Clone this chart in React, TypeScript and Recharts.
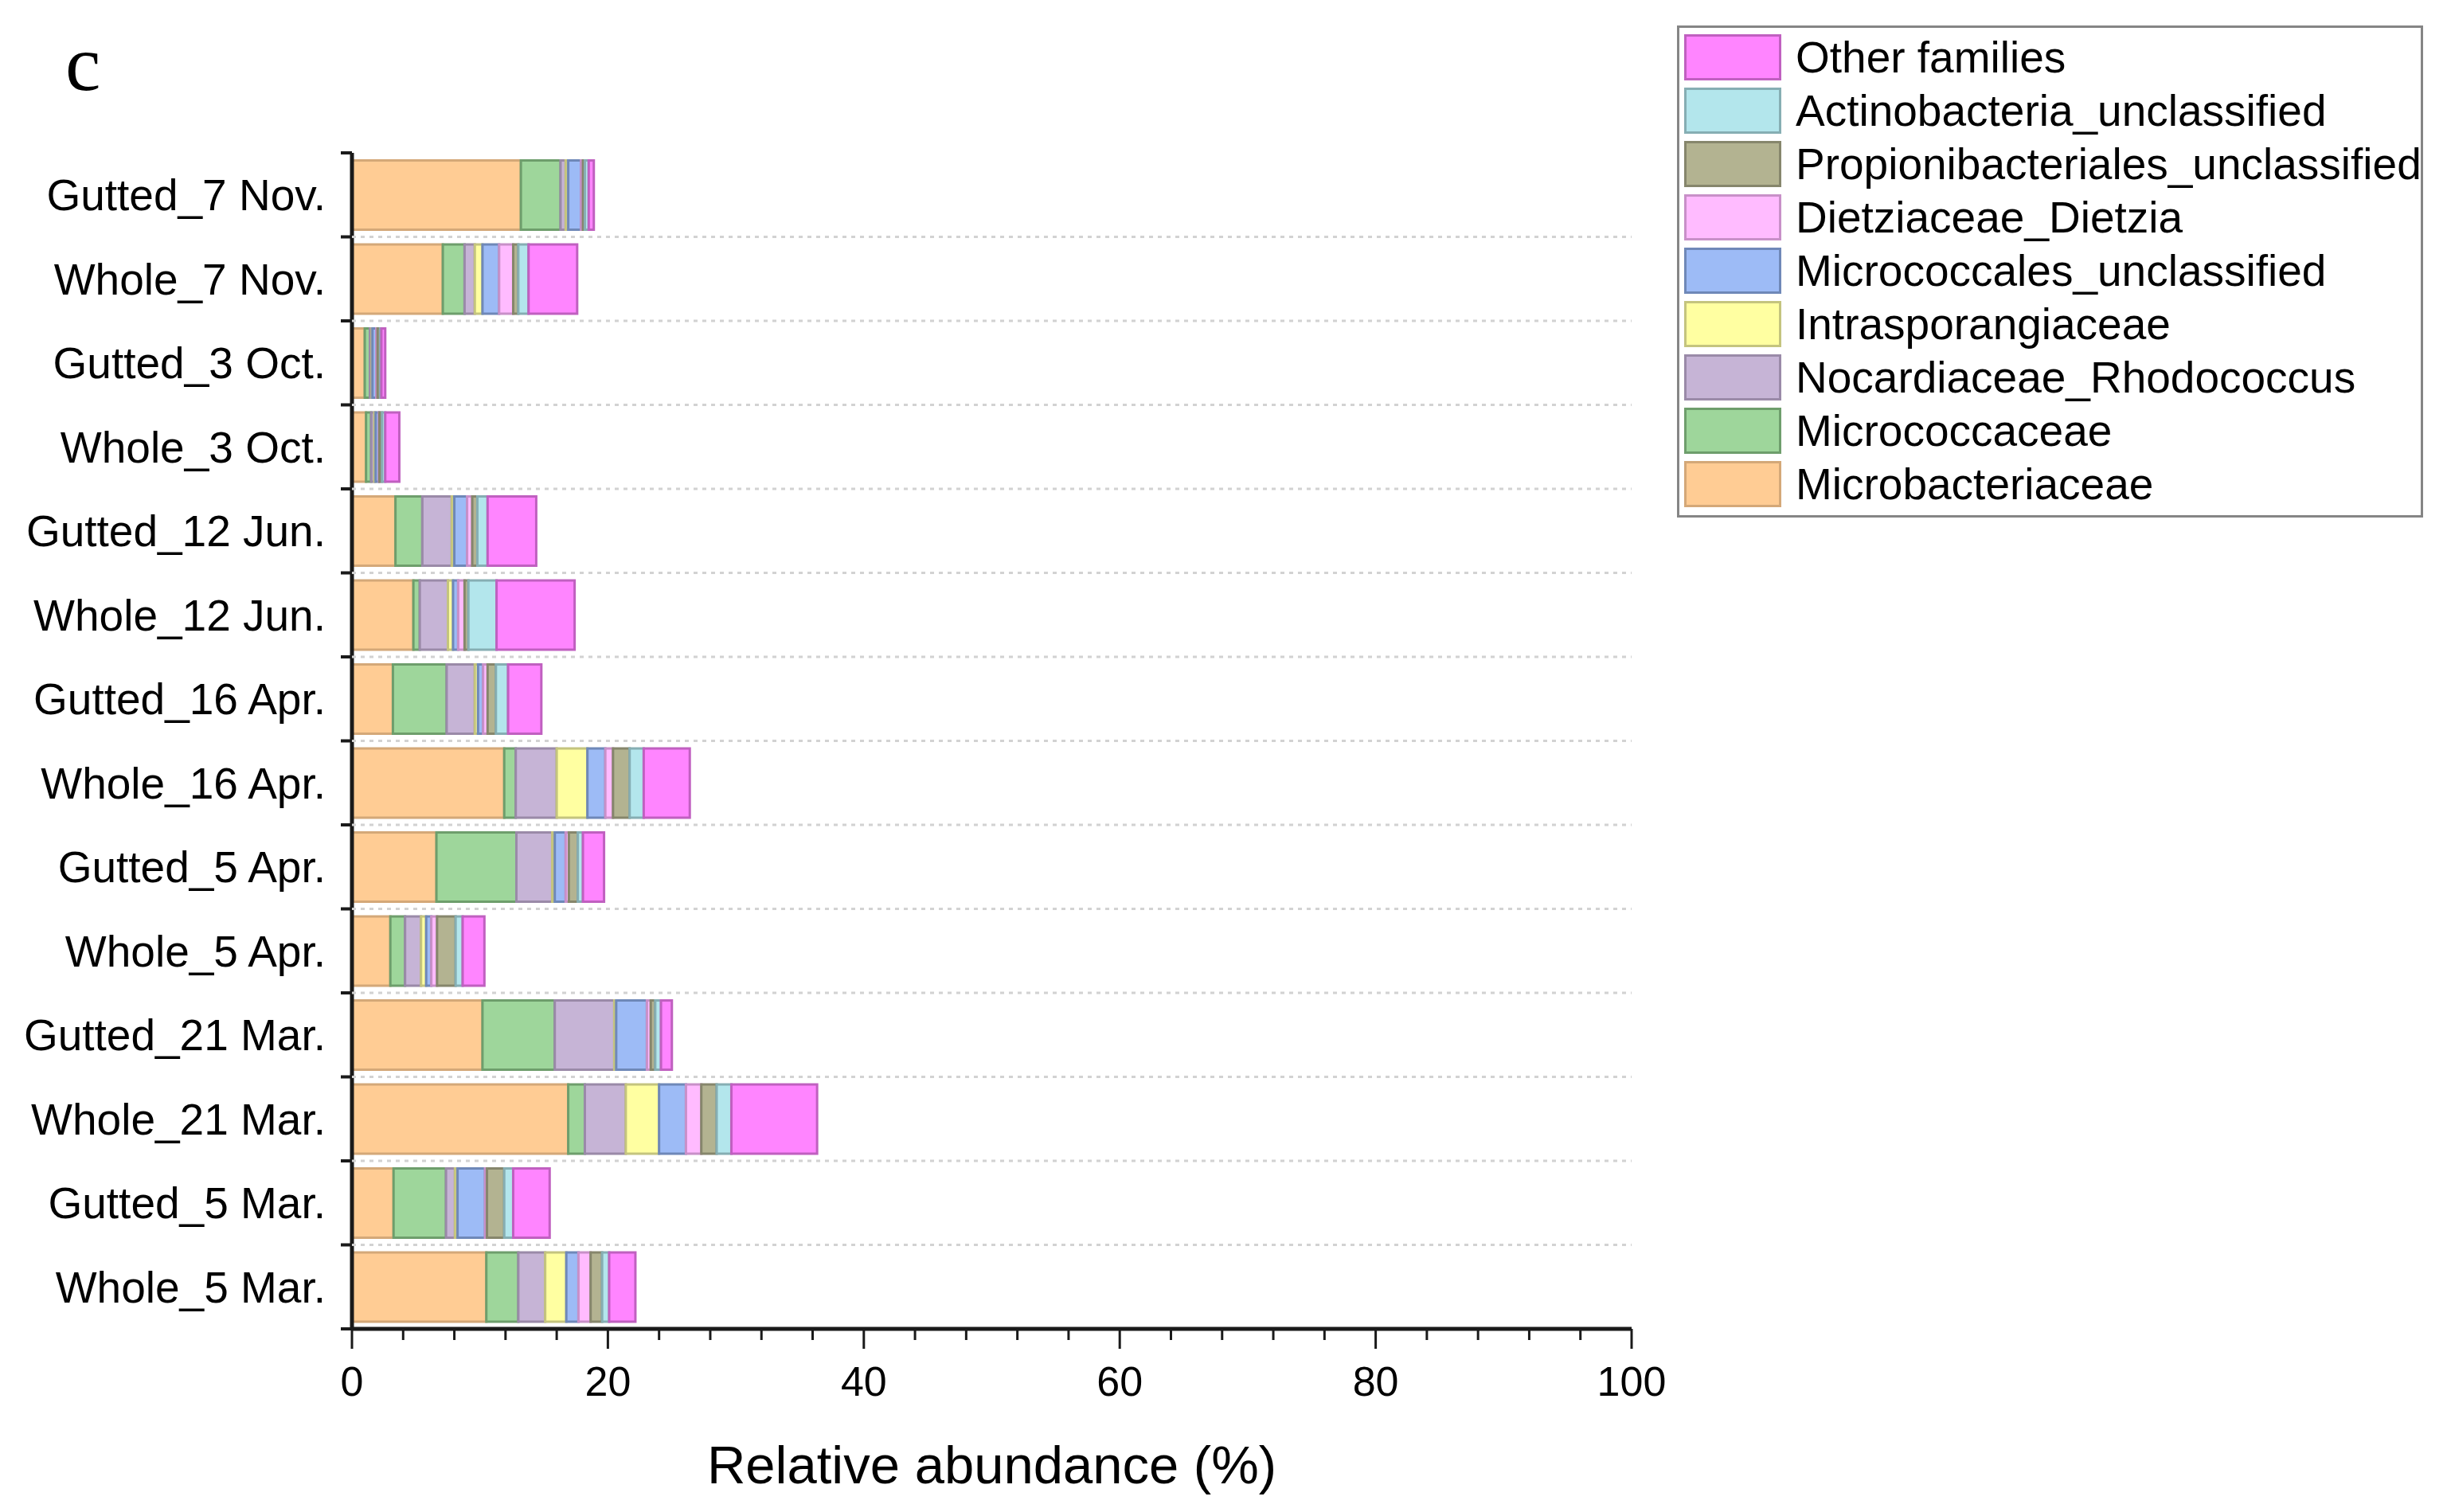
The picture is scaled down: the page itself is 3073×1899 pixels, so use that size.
import React from 'react';
import { BarChart, Bar, XAxis, YAxis } from 'recharts';

const FONT = '"Liberation Sans", Arial, sans-serif';

const samples = [
  'Gutted_7 Nov.', 'Whole_7 Nov.', 'Gutted_3 Oct.', 'Whole_3 Oct.',
  'Gutted_12 Jun.', 'Whole_12 Jun.', 'Gutted_16 Apr.', 'Whole_16 Apr.',
  'Gutted_5 Apr.', 'Whole_5 Apr.', 'Gutted_21 Mar.', 'Whole_21 Mar.',
  'Gutted_5 Mar.', 'Whole_5 Mar.',
];

// relative abundance (%), one value per sample, in the order above
const microbacteriaceae = [13.2, 7.1, 1.0, 1.1, 3.4, 4.8, 3.2, 11.9, 6.6, 3.0, 10.2, 16.9, 3.25, 10.5];
const micrococcaceae = [3.1, 1.7, 0.4, 0.4, 2.1, 0.5, 4.2, 0.9, 6.25, 1.15, 5.65, 1.3, 4.1, 2.5];
const rhodococcus = [0.4, 0.8, 0.15, 0.25, 2.3, 2.2, 2.2, 3.2, 2.8, 1.25, 4.65, 3.2, 0.7, 2.1];
const intrasporangiaceae = [0.2, 0.6, 0.05, 0.1, 0.2, 0.4, 0.25, 2.4, 0.2, 0.4, 0.15, 2.6, 0.2, 1.65];
const micrococcalesUncl = [1.0, 1.3, 0.3, 0.25, 1.0, 0.4, 0.4, 1.4, 0.85, 0.4, 2.4, 2.1, 2.15, 0.95];
const dietzia = [0.15, 1.1, 0.1, 0.05, 0.4, 0.5, 0.35, 0.6, 0.25, 0.45, 0.3, 1.2, 0.15, 0.95];
const propionibacteriales = [0.15, 0.4, 0.2, 0.2, 0.4, 0.3, 0.65, 1.3, 0.7, 1.45, 0.35, 1.2, 1.35, 0.9];
const actinobacteriaUncl = [0.3, 0.8, 0.1, 0.25, 0.8, 2.2, 0.95, 1.1, 0.4, 0.55, 0.45, 1.15, 0.7, 0.55];
const otherFamilies = [0.4, 3.8, 0.3, 1.1, 3.8, 6.1, 2.6, 3.6, 1.65, 1.7, 0.85, 6.7, 2.85, 2.05];

const series = [
  { key: 'Microbacteriaceae', values: microbacteriaceae, fill: '#FFCC94', stroke: '#D4A878' },
  { key: 'Micrococcaceae', values: micrococcaceae, fill: '#9ED69B', stroke: '#6E9E6C' },
  { key: 'Nocardiaceae_Rhodococcus', values: rhodococcus, fill: '#C6B4D6', stroke: '#9A8AA8' },
  { key: 'Intrasporangiaceae', values: intrasporangiaceae, fill: '#FFFFA1', stroke: '#C4C47E' },
  { key: 'Micrococcales_unclassified', values: micrococcalesUncl, fill: '#9DBBF6', stroke: '#6F88B8' },
  { key: 'Dietziaceae_Dietzia', values: dietzia, fill: '#FFBBFF', stroke: '#C890C8' },
  { key: 'Propionibacteriales_unclassified', values: propionibacteriales, fill: '#B3B391', stroke: '#86866C' },
  { key: 'Actinobacteria_unclassified', values: actinobacteriaUncl, fill: '#B3E6EC', stroke: '#86AEB3' },
  { key: 'Other families', values: otherFamilies, fill: '#FF85FF', stroke: '#C060C0' },
];

const xTicks = [0, 4, 8, 12, 16, 20, 24, 28, 32, 36, 40, 44, 48, 52, 56, 60, 64, 68, 72, 76, 80, 84, 88, 92, 96, 100];

const W = 3073;
const H = 1899;
const MARGIN = { top: 192, right: 1024, bottom: 0, left: 0 };
const Y_AXIS_W = 442;
const X_AXIS_H = 230;
const PLOT_W = W - MARGIN.left - MARGIN.right - Y_AXIS_W;
const BAND = (H - MARGIN.top - MARGIN.bottom - X_AXIS_H) / samples.length;

const rows = samples.map((name, i) => {
  const row: Record<string, string | number> = { sample: name };
  series.forEach((s) => {
    row[s.key] = s.values[i];
  });
  return row;
});

function XTick(props: any) {
  const { x, y, payload } = props;
  const major = payload.value % 20 === 0;
  return (
    <g>
      <line x1={x} x2={x} y1={y} y2={y + (major ? 25 : 14)} stroke="#1a1a1a" strokeWidth={3} />
      {major && (
        <text x={x} y={y + 84} textAnchor="middle" fontSize={52} fontFamily={FONT} fill="#000">
          {payload.value}
        </text>
      )}
    </g>
  );
}

// sample label, plus the Origin-style tick and dotted guide at the band edge
function YTick(props: any) {
  const { x, y, payload, index } = props;
  const lower = y + BAND / 2;
  const last = index === samples.length - 1;
  return (
    <g>
      {!last && (
        <line x1={x} x2={x + PLOT_W} y1={lower} y2={lower} stroke="#d2d2d2" strokeWidth={3} strokeDasharray="5 6" />
      )}
      <line x1={x - 14} x2={x} y1={lower} y2={lower} stroke="#1a1a1a" strokeWidth={4} />
      {index === 0 && <line x1={x - 14} x2={x} y1={y - BAND / 2} y2={y - BAND / 2} stroke="#1a1a1a" strokeWidth={4} />}
      <text x={x - 33} y={y} dy="0.355em" textAnchor="end" fontSize={55} fontFamily={FONT} fill="#000">
        {payload.value}
      </text>
    </g>
  );
}

export default function App() {
  return (
    <div style={{ position: 'absolute', left: 0, top: 0, width: W, height: H, background: '#fff' }}>
      <div
        style={{
          position: 'absolute',
          left: 82,
          top: 30,
          fontSize: 100,
          lineHeight: '100px',
          fontFamily: '"Liberation Serif", "DejaVu Serif", serif',
          color: '#000',
        }}
      >
        c
      </div>

      <BarChart width={W} height={H} data={rows} layout="vertical" margin={MARGIN} barCategoryGap="9%">
        <XAxis
          type="number"
          domain={[0, 100]}
          ticks={xTicks}
          interval={0}
          height={X_AXIS_H}
          tickSize={0}
          tickMargin={0}
          tickLine={false}
          tick={<XTick />}
          axisLine={{ stroke: '#1a1a1a', strokeWidth: 5 }}
          label={{
            value: 'Relative abundance (%)',
            position: 'insideBottom',
            offset: 36,
            style: { fontSize: 67, fontFamily: FONT, fill: '#000' },
          }}
        />
        <YAxis
          type="category"
          dataKey="sample"
          width={Y_AXIS_W}
          interval={0}
          tickSize={0}
          tickMargin={0}
          tickLine={false}
          tick={<YTick />}
          axisLine={{ stroke: '#1a1a1a', strokeWidth: 5 }}
        />
        {series.map((s) => (
          <Bar
            key={s.key}
            dataKey={s.key}
            stackId="a"
            fill={s.fill}
            stroke={s.stroke}
            strokeWidth={3}
            isAnimationActive={false}
          />
        ))}
      </BarChart>

      <div
        style={{
          position: 'absolute',
          left: 2106,
          top: 32,
          width: 937,
          height: 618,
          border: '3px solid #858585',
          boxSizing: 'border-box',
          background: '#fff',
        }}
      >
        {[...series].reverse().map((s, i) => (
          <div
            key={s.key}
            style={{ position: 'absolute', left: 6, top: 8 + i * 67, height: 58, display: 'flex', alignItems: 'center' }}
          >
            <span
              style={{
                width: 122,
                height: 58,
                background: s.fill,
                border: `3px solid ${s.stroke}`,
                boxSizing: 'border-box',
                flexShrink: 0,
              }}
            />
            <span style={{ marginLeft: 18, fontSize: 55, fontFamily: FONT, color: '#000', whiteSpace: 'nowrap' }}>
              {s.key}
            </span>
          </div>
        ))}
      </div>
    </div>
  );
}
